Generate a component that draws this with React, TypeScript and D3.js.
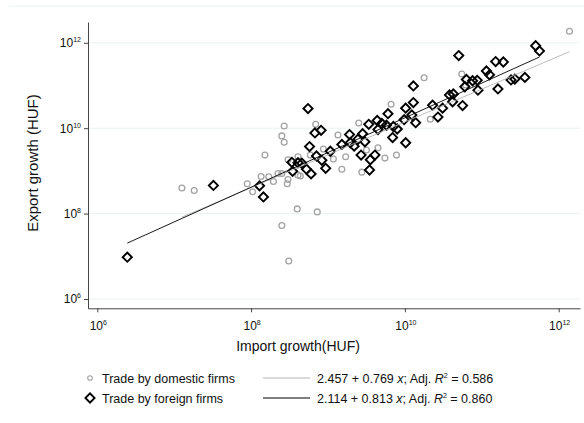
import { axisBottom, axisLeft, scaleLog, select, symbol, symbolSquare } from 'd3';
import { useEffect, useRef } from 'react';

// log10 of import / export growth (HUF)
const domesticImport = [7.10, 7.26, 7.95, 8.02, 8.13, 8.23, 8.29, 8.35, 8.40, 8.47, 8.48, 8.18, 8.43, 8.40, 8.43, 8.60, 8.86, 8.40, 8.49, 8.61, 8.61, 8.48, 8.84, 9.13, 9.40, 8.94, 9.07, 9.18, 9.23, 9.44, 9.65, 9.74, 9.89, 9.50, 8.77, 9.82, 8.64, 10.25, 10.74, 10.33, 10.79, 12.14];
const domesticExport = [8.60, 8.54, 8.70, 8.51, 8.87, 8.86, 8.75, 8.94, 8.94, 8.70, 8.80, 9.37, 10.05, 9.82, 9.67, 8.11, 8.04, 7.72, 6.89, 9.33, 8.90, 9.26, 10.09, 9.84, 10.12, 9.51, 9.28, 9.04, 9.33, 8.97, 9.54, 9.30, 9.37, 9.49, 9.37, 10.56, 8.88, 11.18, 11.27, 10.21, 11.01, 12.27];

const foreignImport = [6.39, 7.51, 8.11, 8.16, 8.53, 8.54, 8.61, 8.74, 8.83, 8.91, 8.76, 8.66, 8.78, 8.72, 8.85, 8.92, 8.97, 9.03, 9.18, 9.28, 9.34, 9.39, 9.43, 9.45, 9.53, 9.55, 9.61, 9.54, 9.64, 9.70, 9.78, 9.76, 9.85, 9.84, 9.90, 10.01, 10.01, 9.99, 10.09, 10.14, 10.11, 10.11, 9.29, 9.48, 9.65, 10.36, 10.43, 10.49, 10.58, 10.63, 10.62, 10.75, 10.70, 10.80, 10.88, 10.94, 10.95, 11.06, 11.10, 11.18, 11.28, 11.21, 11.38, 11.43, 11.56, 11.70, 11.75, 10.78];
const foreignExport = [6.98, 8.66, 8.65, 8.39, 9.20, 8.99, 9.19, 10.46, 9.89, 9.95, 9.57, 9.18, 8.93, 9.04, 9.35, 9.25, 9.06, 9.46, 9.62, 9.85, 9.58, 9.74, 9.37, 9.87, 10.09, 9.26, 9.37, 9.02, 10.18, 10.11, 10.34, 10.07, 10.04, 9.78, 9.98, 10.47, 9.66, 10.20, 10.31, 10.13, 10.99, 10.60, 9.66, 9.68, 9.97, 10.54, 10.26, 10.47, 10.78, 10.80, 10.62, 10.53, 11.70, 11.14, 11.11, 11.12, 10.89, 11.34, 11.25, 11.56, 11.55, 10.92, 11.13, 11.15, 11.19, 11.93, 11.81, 10.97];

// intercept, slope, adj. R2
const domesticFit = [2.457, 0.769, 0.586];
const foreignFit = [2.114, 0.813, 0.860];

const seriesLabels = ['Trade by domestic firms', 'Trade by foreign firms'];
const tickExponents = [6, 8, 10, 12];
const xTitle = 'Import growth(HUF)';
const yTitle = 'Export growth (HUF)';

const FONT = "'Liberation Sans', Arial, sans-serif";
const GRAY = '#a3a3a3';

function App() {
  const svgRef = useRef<SVGSVGElement>(null);

  useEffect(() => {
    const svg = select(svgRef.current);
    svg.selectAll('*').remove();

    const x = scaleLog().domain([10 ** 5.879, 10 ** 12.277]).range([88, 580]);
    const y = scaleLog().domain([10 ** 5.782, 10 ** 12.487]).range([308.3, 22]);
    const ticks = tickExponents.map(e => 10 ** e);

    // faint outer line and grid
    svg.append('line')
      .attr('x1', 9).attr('x2', 584).attr('y1', 6).attr('y2', 6)
      .attr('stroke', '#eaf2f3').attr('stroke-width', 1);
    svg.selectAll('.grid')
      .data(ticks)
      .join('line')
      .attr('class', 'grid')
      .attr('x1', 88).attr('x2', 580)
      .attr('y1', d => y(d)).attr('y2', d => y(d))
      .attr('stroke', '#eaf2f3').attr('stroke-width', 1);

    svg.append('g')
      .attr('transform', 'translate(88,0)')
      .attr('color', '#444')
      .call(axisLeft(y).tickValues(ticks).tickSize(4).tickSizeOuter(0).tickFormat(() => ''));
    svg.append('g')
      .attr('transform', 'translate(0,308.3)')
      .attr('color', '#444')
      .call(axisBottom(x).tickValues(ticks).tickSize(4).tickSizeOuter(0).tickFormat(() => ''));

    const powLabel = (sel, e) => {
      sel.append('tspan').text('10');
      sel.append('tspan').attr('font-size', 7).attr('dy', -5).text(e);
    };
    tickExponents.forEach(e => {
      const t = svg.append('text')
        .attr('x', 81).attr('y', y(10 ** e) + 4.5)
        .attr('text-anchor', 'end')
        .attr('font-family', FONT).attr('font-size', 12).attr('fill', '#111');
      powLabel(t, e);
      const b = svg.append('text')
        .attr('x', x(10 ** e) + 1).attr('y', 330)
        .attr('text-anchor', 'middle')
        .attr('font-family', FONT).attr('font-size', 12).attr('fill', '#111');
      powLabel(b, e);
    });

    svg.append('text')
      .attr('transform', 'translate(38,163) rotate(-90)')
      .attr('text-anchor', 'middle')
      .attr('font-family', FONT).attr('font-size', 15).attr('fill', '#111')
      .text(yTitle);
    svg.append('text')
      .attr('x', 298).attr('y', 351)
      .attr('text-anchor', 'middle')
      .attr('font-family', FONT).attr('font-size', 14).attr('fill', '#111')
      .text(xTitle);

    // points
    svg.selectAll('.dom')
      .data(domesticImport.map((d, i) => [d, domesticExport[i]]))
      .join('circle')
      .attr('class', 'dom')
      .attr('cx', d => x(10 ** d[0]))
      .attr('cy', d => y(10 ** d[1]))
      .attr('r', 2.9)
      .attr('fill', 'none')
      .attr('stroke', GRAY)
      .attr('stroke-width', 1.3);

    const diamond = symbol().type(symbolSquare).size(42);
    svg.selectAll('.for')
      .data(foreignImport.map((d, i) => [d, foreignExport[i]]))
      .join('path')
      .attr('class', 'for')
      .attr('d', diamond)
      .attr('transform', d => `translate(${x(10 ** d[0])},${y(10 ** d[1])}) rotate(45)`)
      .attr('fill', 'none')
      .attr('stroke', '#000')
      .attr('stroke-width', 1.9);

    // fitted lines
    const fit = (xs, coef, color) => {
      const lo = Math.min(...xs);
      const hi = Math.max(...xs);
      svg.append('line')
        .attr('x1', x(10 ** lo)).attr('y1', y(10 ** (coef[0] + coef[1] * lo)))
        .attr('x2', x(10 ** hi)).attr('y2', y(10 ** (coef[0] + coef[1] * hi)))
        .attr('stroke', color).attr('stroke-width', 0.9);
    };
    fit(domesticImport, domesticFit, '#b5b5b5');
    fit(foreignImport, foreignFit, '#000');

    // legend
    const rows = [
      { label: seriesLabels[0], coef: domesticFit, color: '#b5b5b5', cy: 378 },
      { label: seriesLabels[1], coef: foreignFit, color: '#000', cy: 398 },
    ];
    rows.forEach((r, i) => {
      if (i === 0) {
        svg.append('circle').attr('cx', 90).attr('cy', r.cy).attr('r', 2.3)
          .attr('fill', 'none').attr('stroke', GRAY).attr('stroke-width', 1.1);
      } else {
        svg.append('path').attr('d', diamond)
          .attr('transform', `translate(90,${r.cy}) rotate(45)`)
          .attr('fill', 'none').attr('stroke', '#000').attr('stroke-width', 1.9);
      }
      svg.append('text')
        .attr('x', 102).attr('y', r.cy + 4.5)
        .attr('font-family', FONT).attr('font-size', 12.5).attr('fill', '#111')
        .text(r.label);
      svg.append('line')
        .attr('x1', 263).attr('x2', 310).attr('y1', r.cy).attr('y2', r.cy)
        .attr('stroke', r.color).attr('stroke-width', 1);
      const t = svg.append('text')
        .attr('x', 317).attr('y', r.cy + 4.5)
        .attr('font-family', FONT).attr('font-size', 12.5).attr('fill', '#111');
      t.append('tspan').text(`${r.coef[0].toFixed(3)} + ${r.coef[1].toFixed(3)} `);
      t.append('tspan').attr('font-style', 'italic').text('x');
      t.append('tspan').text('; Adj. ');
      t.append('tspan').attr('font-style', 'italic').text('R');
      t.append('tspan').attr('font-size', 7).attr('dy', -5).text('2');
      t.append('tspan').attr('dy', 5).text(` = ${r.coef[2].toFixed(3)}`);
    });
  }, []);

  return (
    <svg
      ref={svgRef}
      width={584}
      height={423}
      style={{ position: 'absolute', left: 0, top: 0, background: '#fff' }}
    />
  );
}

export default App;
